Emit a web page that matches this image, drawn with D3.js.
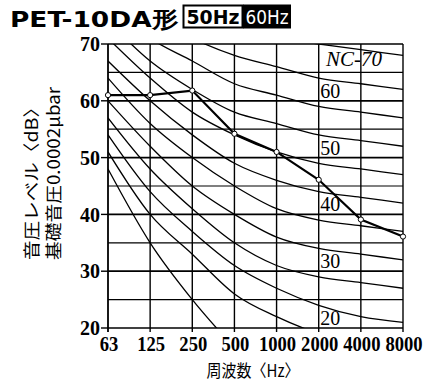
<!DOCTYPE html>
<html><head><meta charset="utf-8">
<script src="https://cdn.jsdelivr.net/npm/d3@7"></script>
<style>html,body{margin:0;padding:0;background:#fff;}svg{display:block;}</style>
</head><body>
<svg id="chart" width="439" height="381"></svg>
<script>
// ---- data ----
const freqs = ["63","125","250","500","1000","2000","4000","8000"];
const yTicks = [20,30,40,50,60,70];
const gridLevels = [20,25,30,35,40,45,50,55,60,65,70];
const nc15 = [48, 35, 25, 16.5, null, null, null, null];
const nc20 = [51, 40, 33, 26, 22, 19, 17, 16];
const nc25 = [54, 44, 37, 31, 27, 24, 22, 21];
const nc30 = [57, 48, 41, 35, 31, 29, 28, 27];
const nc35 = [60, 52, 45, 40, 36, 34, 33, 32];
const nc40 = [64, 56, 50, 45, 41, 39, 38, 37];
const nc45 = [67, 60, 54, 49, 46, 44, 43, 42];
const nc50 = [71, 64, 58, 54, 51, 49, 48, 47];
const nc55 = [74, 67, 62, 58, 56, 54, 53, 52];
const nc60 = [77, 71, 67, 63, 61, 59, 58, 57];
const nc65 = [80, 75, 71, 68, 66, 64, 63, 62];
const nc70 = [83, 79, 75, 72, 71, 70, 69, 68];
const ncCurves = [nc15, nc20, nc25, nc30, nc35, nc40, nc45, nc50, nc55, nc60, nc65, nc70];
const measured = [61, 61, 61.8, 54.2, 51, 46.1, 39.1, 36.1];
const ncLabelValues = [20, 30, 40, 50, 60];
const ncTopLabel = "NC-70";

// ---- layout ----
const svg = d3.select("#chart");
const L = 108, R = 403, T = 44, B = 328;
const x = d3.scalePoint().domain(freqs).range([L, R]);
const y = d3.scaleLinear().domain([20, 70]).range([B, T]);

svg.append("defs").append("clipPath").attr("id","plot")
  .append("rect").attr("x", L).attr("y", T).attr("width", R - L).attr("height", B - T);

// title
svg.append("text").attr("x", 10).attr("y", 27)
  .attr("font-family", "DejaVu Sans").attr("font-weight", "bold").attr("font-size", 22)
  .attr("textLength", 168).attr("lengthAdjust", "spacingAndGlyphs")
  .text("PET-10DA形");
svg.append("rect").attr("x", 183.5).attr("y", 5.5).attr("width", 59).attr("height", 22)
  .attr("fill", "#fff").attr("stroke", "#000").attr("stroke-width", 2);
svg.append("text").attr("x", 213).attr("y", 24).attr("text-anchor", "middle")
  .attr("font-family", "DejaVu Sans").attr("font-weight", "bold").attr("font-size", 19)
  .attr("textLength", 53).attr("lengthAdjust", "spacingAndGlyphs").text("50Hz");
svg.append("rect").attr("x", 243).attr("y", 4.5).attr("width", 48).attr("height", 24).attr("fill", "#000");
svg.append("text").attr("x", 267).attr("y", 24).attr("text-anchor", "middle")
  .attr("font-family", "DejaVu Sans").attr("font-size", 19).attr("fill", "#fff")
  .attr("textLength", 43).attr("lengthAdjust", "spacingAndGlyphs").text("60Hz");

// grid
const g = svg.append("g");
g.selectAll("line.h").data(gridLevels).join("line")
  .attr("x1", L).attr("x2", R).attr("y1", d => y(d)).attr("y2", d => y(d))
  .attr("stroke", "#000").attr("stroke-width", d => d % 10 === 0 ? 1.7 : 1.2);
g.selectAll("line.v").data(freqs).join("line")
  .attr("x1", d => x(d)).attr("x2", d => x(d)).attr("y1", T).attr("y2", B + 4)
  .attr("stroke", "#000").attr("stroke-width", (d, i) => i === 0 ? 1.8 : 1.4);

// y axis ticks + labels
g.selectAll("line.yt").data(yTicks).join("line")
  .attr("x1", L - 7).attr("x2", L).attr("y1", d => y(d)).attr("y2", d => y(d))
  .attr("stroke", "#000").attr("stroke-width", 1.4);
svg.append("g").selectAll("text").data(yTicks).join("text")
  .attr("x", L - 8).attr("y", d => y(d)).attr("dy", "0.36em").attr("text-anchor", "end")
  .attr("font-family", "Liberation Serif").attr("font-weight", "bold").attr("font-size", 20)
  .text(d => d);
svg.append("g").selectAll("text").data(freqs).join("text")
  .attr("x", d => x(d) + 1).attr("y", 351).attr("text-anchor", "middle")
  .attr("font-family", "Liberation Serif").attr("font-weight", "bold").attr("font-size", 20)
  .attr("textLength", d => d.length * 9.3).attr("lengthAdjust", "spacingAndGlyphs")
  .text(d => d);

// NC curves
const line = d3.line()
  .defined(d => d != null)
  .x((d, i) => x(freqs[i])).y(d => y(d))
  .curve(d3.curveMonotoneX);
const cg = svg.append("g").attr("clip-path", "url(#plot)");
cg.selectAll("path").data(ncCurves).join("path")
  .attr("d", d => line(d)).attr("fill", "none").attr("stroke", "#000").attr("stroke-width", 1.3);

// NC labels
svg.append("g").selectAll("text").data(ncLabelValues).join("text")
  .attr("x", x("2000") + 1.5).attr("y", d => y(d) - 3)
  .attr("font-family", "Liberation Serif").attr("font-size", 20)
  .text(d => d);
svg.append("text").attr("x", 326).attr("y", 66)
  .attr("font-family", "Liberation Serif").attr("font-style", "italic").attr("font-size", 21)
  .text(ncTopLabel);

// measured line
const mline = d3.line().x((d, i) => x(freqs[i])).y(d => y(d));
svg.append("path").attr("d", mline(measured)).attr("fill", "none")
  .attr("stroke", "#000").attr("stroke-width", 2.2);
svg.append("g").selectAll("circle").data(measured).join("circle")
  .attr("cx", (d, i) => x(freqs[i])).attr("cy", d => y(d)).attr("r", 2.6)
  .attr("fill", "#fff").attr("stroke", "#000").attr("stroke-width", 1);

// axis titles
svg.append("text").attr("transform", "translate(30.5,260) rotate(-90)")
  .attr("dominant-baseline", "central")
  .attr("font-family", "Noto Sans CJK JP").attr("font-size", 17)
  .attr("textLength", 162).attr("lengthAdjust", "spacingAndGlyphs")
  .text("音圧レベル〈dB〉");
svg.append("text").attr("transform", "translate(52.5,260) rotate(-90)")
  .attr("dominant-baseline", "central")
  .attr("font-family", "Noto Sans CJK JP").attr("font-size", 17)
  .attr("textLength", 173).attr("lengthAdjust", "spacingAndGlyphs")
  .text("基礎音圧0.0002μbar");
svg.append("text").attr("x", 253).attr("y", 377).attr("text-anchor", "middle")
  .attr("font-family", "Noto Sans CJK JP").attr("font-size", 17)
  .attr("textLength", 93).attr("lengthAdjust", "spacingAndGlyphs")
  .text("周波数〈Hz〉");
</script>
</body></html>
